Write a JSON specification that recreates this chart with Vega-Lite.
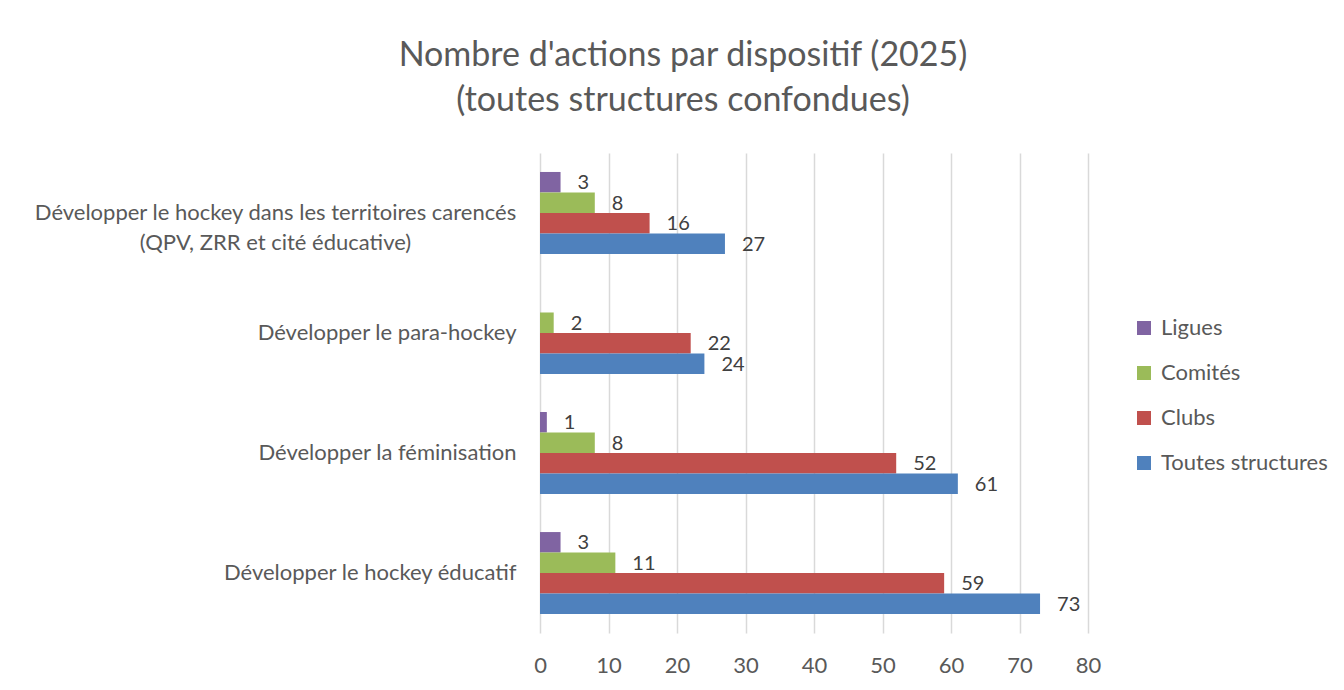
{
  "$schema": "https://vega.github.io/schema/vega-lite/v6.json",
  "autosize": {"type": "none"},
  "width": 548,
  "height": 480,
  "padding": {"left": 540, "top": 153, "right": 256, "bottom": 57},
  "background": "white",
  "title": {
    "text": ["Nombre d'actions par dispositif (2025)", "(toutes structures confondues)"],
    "anchor": "middle",
    "frame": "group",
    "dx": -131,
    "baseline": "bottom",
    "offset": 1,
    "font": "Lato",
    "fontSize": 34,
    "fontWeight": "normal",
    "color": "#595959",
    "lineHeight": 45
  },
  "config": {
    "view": {"stroke": null},
    "font": "Lato"
  },
  "data": {
    "values": [
      {"dispositif": "Développer le hockey dans les territoires carencés|(QPV, ZRR et cité éducative)", "structure": "Ligues", "valeur": 3},
      {"dispositif": "Développer le hockey dans les territoires carencés|(QPV, ZRR et cité éducative)", "structure": "Comités", "valeur": 8},
      {"dispositif": "Développer le hockey dans les territoires carencés|(QPV, ZRR et cité éducative)", "structure": "Clubs", "valeur": 16},
      {"dispositif": "Développer le hockey dans les territoires carencés|(QPV, ZRR et cité éducative)", "structure": "Toutes structures", "valeur": 27},
      {"dispositif": "Développer le para-hockey", "structure": "Comités", "valeur": 2},
      {"dispositif": "Développer le para-hockey", "structure": "Clubs", "valeur": 22},
      {"dispositif": "Développer le para-hockey", "structure": "Toutes structures", "valeur": 24},
      {"dispositif": "Développer la féminisation", "structure": "Ligues", "valeur": 1},
      {"dispositif": "Développer la féminisation", "structure": "Comités", "valeur": 8},
      {"dispositif": "Développer la féminisation", "structure": "Clubs", "valeur": 52},
      {"dispositif": "Développer la féminisation", "structure": "Toutes structures", "valeur": 61},
      {"dispositif": "Développer le hockey éducatif", "structure": "Ligues", "valeur": 3},
      {"dispositif": "Développer le hockey éducatif", "structure": "Comités", "valeur": 11},
      {"dispositif": "Développer le hockey éducatif", "structure": "Clubs", "valeur": 59},
      {"dispositif": "Développer le hockey éducatif", "structure": "Toutes structures", "valeur": 73}
    ]
  },
  "encoding": {
    "y": {
      "field": "dispositif",
      "type": "nominal",
      "sort": null,
      "scale": {
        "domain": [
          "Développer le hockey dans les territoires carencés|(QPV, ZRR et cité éducative)",
          "Développer le para-hockey",
          "Développer la féminisation",
          "Développer le hockey éducatif"
        ],
        "paddingInner": 0.317,
        "paddingOuter": 0.158
      },
      "axis": {
        "title": null,
        "domain": false,
        "ticks": false,
        "tickSize": 0,
        "grid": false,
        "labelPadding": {"condition": {"test": "indexof(datum.value, '|') >= 0", "value": 265}, "value": 24},
        "labelAlign": {"condition": {"test": "indexof(datum.value, '|') >= 0", "value": "center"}, "value": "right"},
        "labelFont": "Lato",
        "labelFontSize": 22,
        "labelColor": "#595959",
        "labelLimit": 0,
        "labelLineHeight": 30,
        "labelBaseline": "middle",
        "labelExpr": "split(datum.label, '|')"
      }
    },
    "yOffset": {
      "field": "structure",
      "type": "nominal",
      "scale": {
        "domain": ["Ligues", "Comités", "Clubs", "Toutes structures"],
        "paddingInner": 0,
        "paddingOuter": 0
      }
    },
    "x": {
      "field": "valeur",
      "type": "quantitative",
      "scale": {"domain": [0, 80], "nice": false},
      "axis": {
        "title": null,
        "values": [0, 10, 20, 30, 40, 50, 60, 70, 80],
        "domain": false,
        "ticks": false,
        "tickSize": 0,
        "grid": true,
        "gridColor": "#d9d9d9",
        "gridWidth": 1.5,
        "labelPadding": 22,
        "labelFont": "Lato",
        "labelFontSize": 22,
        "labelColor": "#595959",
        "labelFlush": false
      }
    }
  },
  "layer": [
    {
      "mark": {"type": "bar", "stroke": null},
      "encoding": {
        "color": {
          "field": "structure",
          "type": "nominal",
          "scale": {
            "domain": ["Ligues", "Comités", "Clubs", "Toutes structures"],
            "range": ["#8064A2", "#9BBB59", "#C0504D", "#4F81BD"]
          },
          "legend": {
            "title": null,
            "orient": "none",
            "legendX": 593,
            "legendY": 164,
            "symbolType": "square",
            "symbolSize": 196,
            "symbolStrokeWidth": 0,
            "labelFont": "Lato",
            "labelFontSize": 22,
            "labelColor": "#595959",
            "labelOffset": 6,
            "labelLimit": 0,
            "rowPadding": 23
          }
        }
      }
    },
    {
      "mark": {"type": "text", "align": "left", "baseline": "middle", "dx": 17, "dy": 1, "font": "Lato", "fontSize": 20, "color": "#404040"},
      "encoding": {
        "text": {"field": "valeur", "type": "quantitative"}
      }
    }
  ]
}
